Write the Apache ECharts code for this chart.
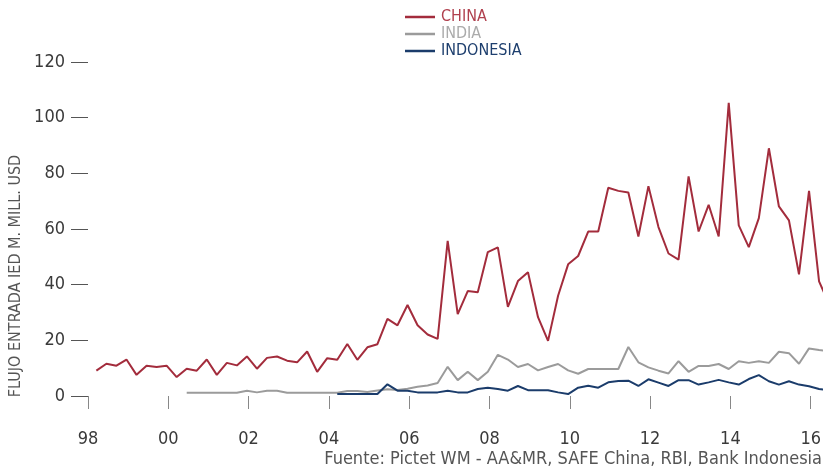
<!DOCTYPE html>
<html>
<head>
<meta charset="utf-8">
<script src="https://cdn.jsdelivr.net/npm/echarts@6/dist/echarts.min.js"></script>
<style>
  html, body { margin: 0; padding: 0; background: #fff; }
  #chart { width: 824px; height: 470px; }
</style>
</head>
<body>
<div id="chart"></div>
<script>
var FONT = "'Liberation Sans Narrow', 'DejaVu Sans Condensed', sans-serif";

// trimestres desde 1998 T1 hasta 2016 T2
var startYear = 1998;
var yearTicks = [1998, 2000, 2002, 2004, 2006, 2008, 2010, 2012, 2014, 2016];
var seriesNames = ['CHINA', 'INDIA', 'INDONESIA'];

var china = [9.1, 11.6, 10.9, 13.1, 7.6, 10.9, 10.4, 10.9, 6.8, 9.8, 9.1, 13.1, 7.6, 11.9, 11.0, 14.2,
  9.8, 13.7, 14.2, 12.7, 12.1, 16.0, 8.7, 13.6, 13.0, 18.7, 13.0, 17.5, 18.6, 27.7, 25.4, 32.7,
  25.4, 22.1, 20.5, 55.7, 29.4, 37.7, 37.3, 51.7, 53.4, 32.0, 41.3, 44.5, 28.3, 19.8, 36.0, 47.3,
  50.3, 59.1, 59.1, 74.8, 73.7, 73.1, 57.3, 75.4, 60.7, 51.2, 49.0, 78.9, 59.1, 68.7, 57.3, 105.3,
  61.3, 53.5, 63.9, 89.0, 68.1, 63.1, 43.7, 73.7, 41.2, 33.0];

var india = [null, null, null, null, null, null, null, null, null, 1.2, 1.2, 1.2, 1.2, 1.2, 1.2, 1.9,
  1.3, 1.9, 1.9, 1.2, 1.2, 1.2, 1.2, 1.2, 1.2, 1.8, 1.8, 1.4, 2.0, 2.4, 2.2, 2.6,
  3.3, 3.8, 4.7, 10.5, 5.7, 8.7, 5.7, 8.7, 14.8, 13.1, 10.4, 11.5, 9.2, 10.4, 11.5, 9.2,
  8.0, 9.7, 9.7, 9.7, 9.7, 17.6, 12.1, 10.3, 9.1, 8.1, 12.5, 8.7, 10.8, 10.8, 11.5, 9.7,
  12.5, 11.9, 12.5, 11.9, 15.9, 15.4, 11.6, 17.1, 16.5, 16.2];

var indonesia = [null, null, null, null, null, null, null, null, null, null, null, null, null, null, null, null,
  null, null, null, null, null, null, null, null, 0.7, 0.7, 0.7, 0.7, 0.7, 4.2, 1.9, 1.9,
  1.3, 1.3, 1.3, 1.9, 1.3, 1.3, 2.5, 3.0, 2.5, 1.9, 3.6, 2.1, 2.1, 2.1, 1.3, 0.7,
  3.0, 3.7, 3.0, 4.9, 5.4, 5.5, 3.6, 6.0, 4.8, 3.6, 5.7, 5.7, 4.1, 4.9, 5.8, 4.9,
  4.1, 6.1, 7.5, 5.3, 4.1, 5.3, 4.1, 3.5, 2.5, 2.0];

// posición de cada trimestre: mitad del último mes
function quarterX(k) {
  var year = startYear + Math.floor(k / 4);
  var q = (k % 4) + 1;
  return year + (3 * q - 0.5) / 12;
}

function toPoints(values) {
  var out = [];
  for (var k = 0; k < values.length; k++) {
    if (values[k] !== null) out.push([quarterX(k), values[k]]);
  }
  return out;
}

var colors = ['#a32c3c', '#9b9b9b', '#1b3c6b'];
var legendColors = ['#b0404e', '#ababab', '#1e3f6e'];

var myChart = echarts.init(document.getElementById('chart'));

var option = {
  animation: false,
  color: colors,
  grid: { left: 88, right: 0, top: 62, bottom: 74 },
  legend: {
    orient: 'vertical',
    left: 400,
    top: 4,
    icon: 'rect',
    itemWidth: 30,
    itemHeight: 2.5,
    itemGap: 1,
    textStyle: { fontFamily: FONT, fontSize: 16, padding: [0, 0, 0, 1] },
    data: seriesNames.map(function(n, i) {
      return { name: n, textStyle: { color: legendColors[i] } };
    })
  },
  xAxis: {
    type: 'value',
    min: 1998,
    max: 2016.27,
    offset: 7,
    axisLine: { show: false },
    splitLine: { show: false },
    axisTick: {
      show: true,
      length: 13,
      customValues: yearTicks,
      lineStyle: { color: '#888', width: 1 }
    },
    axisLabel: {
      customValues: yearTicks,
      margin: 27,
      fontFamily: FONT,
      fontSize: 18,
      color: '#3a3a3a',
      formatter: function(v) {
        var s = String(Math.round(v) % 100);
        return s.length < 2 ? '0' + s : s;
      }
    }
  },
  yAxis: {
    type: 'value',
    min: 0,
    max: 120,
    interval: 20,
    axisLine: { show: false },
    splitLine: { show: false },
    axisTick: { show: true, length: 17, lineStyle: { color: '#555', width: 1 } },
    axisLabel: { margin: 23, fontFamily: FONT, fontSize: 18, color: '#3a3a3a' }
  },
  graphic: [
    {
      type: 'text',
      x: 16,
      y: 276,
      rotation: Math.PI / 2,
      style: {
        text: 'FLUJO ENTRADA IED M. MILL. USD',
        fontFamily: FONT,
        fontSize: 16,
        fill: '#555',
        align: 'center',
        verticalAlign: 'middle'
      }
    },
    {
      type: 'text',
      x: 822,
      y: 459,
      style: {
        text: 'Fuente: Pictet WM - AA&MR, SAFE China, RBI, Bank Indonesia',
        fontFamily: FONT,
        fontSize: 18,
        fill: '#555',
        align: 'right',
        verticalAlign: 'middle'
      }
    }
  ],
  series: [
    { name: 'CHINA', type: 'line', showSymbol: false, lineStyle: { width: 2 }, data: toPoints(china) },
    { name: 'INDIA', type: 'line', showSymbol: false, lineStyle: { width: 2 }, data: toPoints(india) },
    { name: 'INDONESIA', type: 'line', showSymbol: false, lineStyle: { width: 2 }, data: toPoints(indonesia) }
  ]
};

myChart.setOption(option);
</script>
</body>
</html>
